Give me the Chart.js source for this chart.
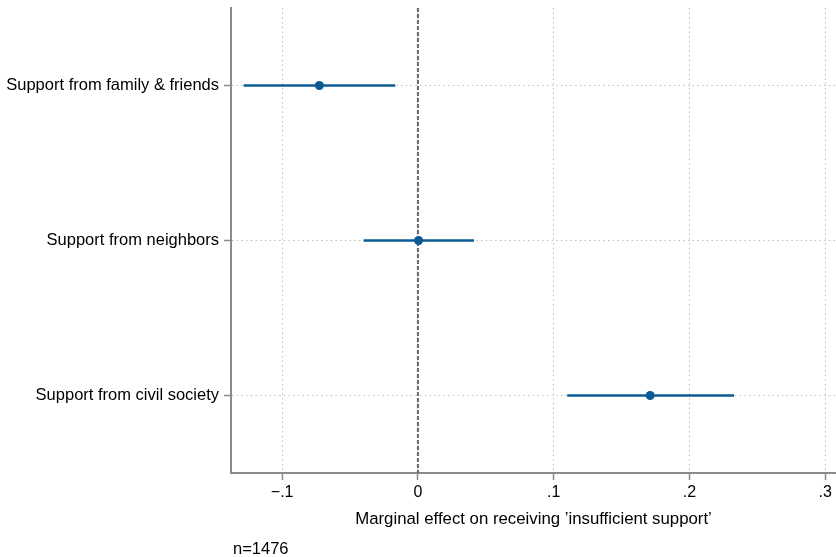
<!DOCTYPE html>
<html>
	<head>
		<title>Marginal effects</title>
		<meta charset="UTF-8">
		<script src="https://cdn.jsdelivr.net/npm/chart.js@4"></script>
		<style>
			html, body { margin: 0; padding: 0; background: #fff; }
			#wrap { width: 836px; height: 557px; }
		</style>
	</head>
	<body>
		<div id="wrap"><canvas id="myChart"></canvas></div>

    <script>
// data
var categories = ['Support from family & friends', 'Support from neighbors', 'Support from civil society'];
var estimates = [-0.0726, 0.0005, 0.1711];
var ciLow = [-0.1284, -0.0400, 0.1100];
var ciHigh = [-0.0167, 0.0413, 0.2329];
var xTicks = [-0.1, 0, 0.1, 0.2, 0.3];
var note = 'n=1476';

var navy = '#0c5a94';
var fontName = '"Liberation Sans", Arial, Helvetica, sans-serif';

var datasets = [];
for (let i = 0; i < categories.length; i++) {
    datasets.push({
        data: [{x: ciLow[i], y: i + 1}, {x: ciHigh[i], y: i + 1}],
        showLine: true,
        borderColor: navy,
        borderWidth: 2.5,
        pointRadius: 0
    });
}
datasets.push({
    data: estimates.map(function(v, i) { return {x: v, y: i + 1}; }),
    pointRadius: 4.5,
    pointBackgroundColor: navy,
    pointBorderColor: navy,
    pointBorderWidth: 0
});
// reference line at zero
datasets.push({
    data: [{x: 0, y: 0.5}, {x: 0, y: 3.5}],
    showLine: true,
    borderColor: '#666666',
    borderWidth: 2,
    borderDash: [4, 2],
    pointRadius: 0
});

var notePlugin = {
    id: 'note',
    afterDraw: function(chart) {
        var ctx = chart.ctx;
        ctx.save();
        ctx.font = '16.5px ' + fontName;
        ctx.fillStyle = '#000';
        ctx.textBaseline = 'middle';
        ctx.fillText(note, chart.chartArea.left + 2, 549);
        ctx.restore();
    }
};

// drop the extra room chart.js keeps for edge labels
function noPad(scale) {
    scale.paddingTop = 0;
    scale.paddingBottom = 0;
    scale.paddingLeft = 0;
    scale.paddingRight = 0;
}

var ctx = document.getElementById('myChart').getContext('2d');
var chart = new Chart(ctx, {
    type: 'scatter',
    data: { datasets: datasets },
    plugins: [notePlugin],
    options: {
        responsive: true,
        maintainAspectRatio: false,
        animation: false,
        layout: { autoPadding: false, padding: { top: 8, right: 0, bottom: 0, left: 0 } },
        plugins: {
            legend: { display: false },
            tooltip: { enabled: false }
        },
        scales: {
            x: {
                type: 'linear',
                min: -0.1377,
                max: 0.308,
                afterBuildTicks: function(scale) {
                    scale.ticks = xTicks.map(function(v) { return {value: v}; });
                },
                afterFit: function(scale) { scale.height = 84; noPad(scale); },
                ticks: {
                    color: '#000',
                    font: { family: fontName, size: 16 },
                    padding: 3,
                    maxRotation: 0,
                    callback: function(v) {
                        if (v === 0) return '0';
                        var s = String(Math.abs(Math.round(v * 10) / 10)).replace(/^0/, '');
                        return (v < 0 ? '\u2212' : '') + s;
                    }
                },
                grid: {
                    color: '#bdbdbd',
                    lineWidth: 1,
                    tickColor: '#8a8a8a',
                    tickLength: 7,
                    tickWidth: 1.5
                },
                border: { color: '#8a8a8a', width: 2, dash: [1.5, 3.2] },
                title: {
                    display: true,
                    text: 'Marginal effect on receiving \u2019insufficient support\u2019',
                    color: '#000',
                    font: { family: fontName, size: 16.8 },
                    padding: { top: 0, bottom: 28 }
                }
            },
            y: {
                type: 'linear',
                reverse: true,
                min: 0.5,
                max: 3.5,
                afterBuildTicks: function(scale) {
                    scale.ticks = categories.map(function(c, i) { return {value: i + 1}; });
                },
                afterFit: function(scale) { scale.width = 231; noPad(scale); },
                ticks: {
                    color: '#000',
                    font: { family: fontName, size: 16.5 },
                    padding: 5,
                    callback: function(v) { return categories[v - 1]; }
                },
                grid: {
                    color: '#bdbdbd',
                    lineWidth: 1,
                    tickColor: '#8a8a8a',
                    tickLength: 7,
                    tickWidth: 1.5
                },
                border: { color: '#8a8a8a', width: 2, dash: [1.5, 3.2] }
            }
        }
    }
});
    </script>
	</body>
</html>
